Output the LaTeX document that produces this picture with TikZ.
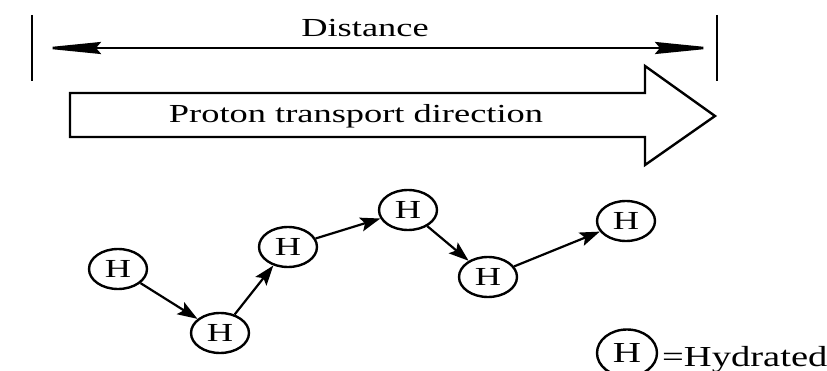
\documentclass[tikz,border=0pt]{standalone}
\usepackage{fontspec}
\setmainfont{Liberation Serif}
\usepackage{graphicx}
\usetikzlibrary{arrows.meta,shapes.geometric}
\tikzset{
  hnode/.style={draw,ellipse,line width=2.4pt,minimum width=58pt,minimum height=40pt,inner sep=0pt,
    font=\fontsize{26}{30}\selectfont},
  conn/.style={line width=2.2pt,-{Stealth[length=20pt,width=14pt,inset=4pt]}},
  bar/.style={line width=2.6pt},
  dist/.style={line width=2.5pt,{Stealth[length=61pt,width=12pt,inset=5pt]}-{Stealth[length=61pt,width=12pt,inset=5pt]}},
  bigarrow/.style={line width=2.4pt,line join=miter},
  lbl/.style={anchor=base,inner sep=0pt,font=\fontsize{26}{30}\selectfont}
}
\newcommand{\hx}[1]{\scalebox{1.4}[1]{#1}}
\begin{document}
\begin{tikzpicture}[x=1pt,y=-1pt]
\useasboundingbox (0,0) rectangle (827,371);
% distance markers
\coordinate (bl1) at (32,15); \coordinate (bl2) at (32,81);
\coordinate (br1) at (717,15); \coordinate (br2) at (717,81);
\draw[bar] (bl1) -- (bl2);
\draw[bar] (br1) -- (br2);
\coordinate (dl) at (40,48); \coordinate (dr) at (716,48);
\draw[dist] (dl) -- (dr);
\node[lbl] (dtext) at (365,37) {\hx{Distance}};
% big arrow
\draw[bigarrow] (70,93) -- (645,93) -- (645,66) -- (715,116) -- (645,165) -- (645,137) -- (70,137) -- cycle;
\node[lbl] (ptext) at (356,123) {\hx{Proton transport direction}};
% hydrated nodes
\node[hnode] (h1) at (118,269) {\hx{H}};
\node[hnode] (h2) at (220,333) {\hx{H}};
\node[hnode] (h3) at (288,247) {\hx{H}};
\node[hnode] (h4) at (408,210) {\hx{H}};
\node[hnode] (h5) at (488,277) {\hx{H}};
\node[hnode] (h6) at (626,221) {\hx{H}};
\draw[conn] (h1) -- (h2);
\draw[conn] (h2) -- (h3);
\draw[conn] (h3) -- (h4);
\draw[conn] (h4) -- (h5);
\draw[conn] (h5) -- (h6);
% legend
\node[hnode,minimum width=60pt,minimum height=47pt,font=\fontsize{29}{33}\selectfont] (hl) at (627,353) {\scalebox{1.35}[1]{H}};
\node[anchor=base west,inner sep=0pt,font=\fontsize{29}{33}\selectfont] (htext) at (662,366) {\scalebox{1.33}[1]{=Hydrated}};
\end{tikzpicture}
\end{document}
